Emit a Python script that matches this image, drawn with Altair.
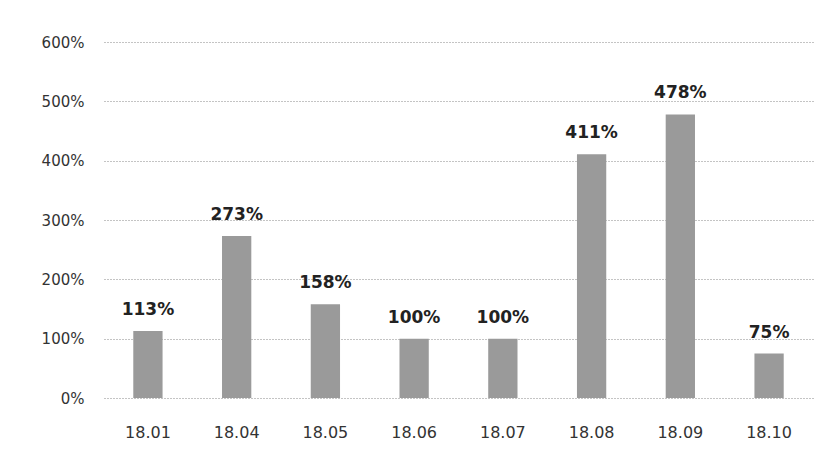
import altair as alt
import pandas as pd

months = ["18.01", "18.04", "18.05", "18.06", "18.07", "18.08", "18.09", "18.10"]
values = [113, 273, 158, 100, 100, 411, 478, 75]
y_ticks = [0, 100, 200, 300, 400, 500, 600]

df = pd.DataFrame({"month": months, "value": values})
df["label"] = df["value"].astype(str) + "%"

x = alt.X("month:N", sort=months, title=None,
          scale=alt.Scale(paddingInner=0.67, paddingOuter=0.33),
          axis=alt.Axis(labelAngle=0, labelFontSize=16, labelColor="#333",
                        labelFont="DejaVu Sans", labelPadding=26,
                        ticks=False, domain=False, grid=False))
y = alt.Y("value:Q", title=None,
          scale=alt.Scale(domain=[0, 600], nice=False),
          axis=alt.Axis(values=y_ticks, labelExpr="datum.value + '%'",
                        labelFontSize=15, labelColor="#333", labelFont="DejaVu Sans",
                        labelPadding=20, ticks=False, domain=False,
                        grid=True, gridColor="#888888", gridDash=[1, 2], gridWidth=1))

bars = alt.Chart(df).mark_bar(color="#9a9a9a").encode(x=x, y=y)
text = alt.Chart(df).mark_text(baseline="bottom", dy=-12, fontSize=17, fontWeight="bold",
                               font="DejaVu Sans", color="#222").encode(
    x=alt.X("month:N", sort=months), y="value:Q", text="label:N")

chart = alt.layer(bars, text).properties(
    width=709, height=356,
    background="white",
    autosize=alt.AutoSizeParams(type="none"),
    padding={"left": 96, "top": 34, "right": 10, "bottom": 50},
).configure_view(stroke=None, strokeWidth=0)

chart.save("out.html", embed_options={"renderer": "svg", "actions": False})
